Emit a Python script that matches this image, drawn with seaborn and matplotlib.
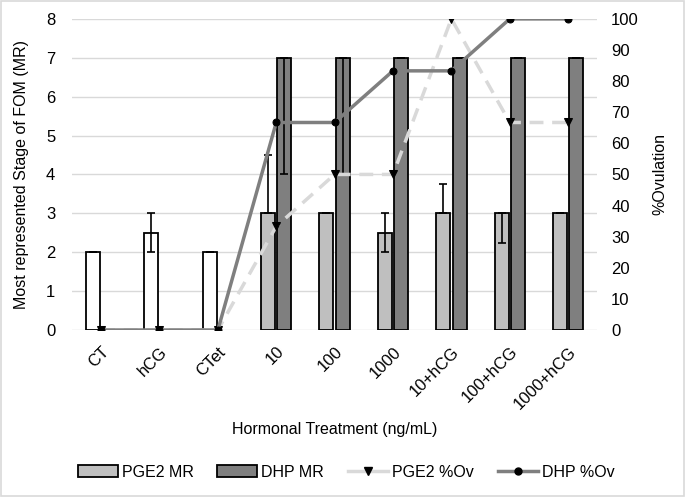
import numpy as np
import pandas as pd
import seaborn as sns
from matplotlib import pyplot as plt
from matplotlib.lines import Line2D
from matplotlib.patches import Patch, Rectangle

# data
treatments = ["CT", "hCG", "CTet", "10", "100", "1000", "10+hCG", "100+hCG", "1000+hCG"]
# controls sit in the PGE2 slot (drawn white)
pge2_mr = [2, 2.5, 2, 3, 3, 2.5, 3, 3, 3]
pge2_err_lo = [0, 0.5, 0, 0, 0, 0.5, 0, 0.75, 0]
pge2_err_hi = [0, 0.5, 0, 1.5, 0, 0.5, 0.75, 0, 0]
dhp_mr = [np.nan, np.nan, np.nan, 7, 7, 7, 7, 7, 7]
dhp_err_lo = [0, 0, 0, 3, 3, 0, 0, 0, 0]
dhp_err_hi = [0, 0, 0, 0, 0, 0, 0, 0, 0]
pge2_ov = [0, 0, 0, 33.3, 50, 50, 100, 66.7, 66.7]
dhp_ov = [0, 0, 0, 66.7, 66.7, 83.3, 83.3, 100, 100]

light = "#bfbfbf"
dark = "#7f7f7f"
dash_col = "#d9d9d9"

df = pd.DataFrame({
    "treat": treatments * 2,
    "mr": pge2_mr + dhp_mr,
    "series": ["PGE2 MR"] * 9 + ["DHP MR"] * 9,
})

plt.rcParams["font.family"] = ["Liberation Sans", "DejaVu Sans"]
plt.rcParams["font.size"] = 11

fig = plt.figure(figsize=(6.85, 4.97), dpi=100)
ax = fig.add_axes([0.105, 0.336, 0.767, 0.626])

sns.barplot(data=df, x="treat", y="mr", hue="series", order=treatments,
            hue_order=["PGE2 MR", "DHP MR"], palette=[light, dark],
            width=0.56, gap=0.14, errorbar=None, edgecolor="black",
            linewidth=1.3, legend=False, ax=ax, zorder=2)

# controls are white
for bar in ax.containers[0][:3]:
    bar.set_facecolor("white")

# asymmetric error bars at the bar centres
xpos = np.arange(9)
for cont, vals, lo, hi in [(ax.containers[0], pge2_mr, pge2_err_lo, pge2_err_hi),
                           (ax.containers[1], dhp_mr, dhp_err_lo, dhp_err_hi)]:
    b = cont[0]
    cx = b.get_x() + b.get_width() / 2
    off = cx - round(cx)
    keep = ~np.isnan(np.array(vals, dtype=float))
    ax.errorbar((xpos + off)[keep], np.array(vals, dtype=float)[keep],
                yerr=[np.array(lo)[keep], np.array(hi)[keep]], fmt="none",
                ecolor="black", elinewidth=1.2, capsize=3, capthick=1.2, zorder=3)

ax.set_ylim(0, 8)
ax.set_yticks(range(9))
ax.set_xlim(-0.5, 8.5)
ax.grid(axis="y", color="#d9d9d9", lw=1)
ax.set_axisbelow(True)
for s in ax.spines.values():
    s.set_visible(False)
ax.tick_params(length=0, labelsize=12)
ax.tick_params(axis="y", pad=12)
ax.set_xticks(range(9))
ax.set_xticklabels(treatments, rotation=45, ha="right", rotation_mode="anchor")
ax.tick_params(axis="x", pad=10)
ax.set_ylabel("Most represented Stage of FOM (MR)", fontsize=11.5, labelpad=12)
ax.set_xlabel("Hormonal Treatment (ng/mL)", fontsize=11.5, labelpad=7)

ax2 = ax.twinx()
sns.lineplot(x=xpos, y=pge2_ov, ax=ax2, color=dash_col, lw=2.5, linestyle=(0, (4, 2.5)),
             marker="v", markersize=6, markerfacecolor="black", markeredgecolor="black")
sns.lineplot(x=xpos, y=dhp_ov, ax=ax2, color=dark, lw=2.5,
             marker="o", markersize=5, markerfacecolor="black", markeredgecolor="black")
ax2.set_ylim(0, 100)
ax2.set_yticks(range(0, 101, 10))
ax2.set_xlim(-0.5, 8.5)
for s in ax2.spines.values():
    s.set_visible(False)
ax2.tick_params(length=0, labelsize=12, pad=10)
ax2.set_ylabel("%Ovulation", fontsize=11.5, labelpad=10)

handles = [
    Patch(facecolor=light, edgecolor="black", lw=1.3, label="PGE2 MR"),
    Patch(facecolor=dark, edgecolor="black", lw=1.3, label="DHP MR"),
    Line2D([], [], color=dash_col, lw=2.5, marker="v", markersize=6,
           markerfacecolor="black", markeredgecolor="black", label="PGE2 %Ov"),
    Line2D([], [], color=dark, lw=2.5, marker="o", markersize=5,
           markerfacecolor="black", markeredgecolor="black", label="DHP %Ov"),
]
fig.legend(handles=handles, loc="center", bbox_to_anchor=(0.505, 0.05), ncol=4,
           frameon=False, fontsize=11.5, handlelength=2.5, handleheight=0.8,
           handletextpad=0.25, columnspacing=1.5)

fig.patches.append(Rectangle((0.002, 0.002), 0.996, 0.996, transform=fig.transFigure,
                             fill=False, edgecolor="#d9d9d9", lw=1.2))

fig.savefig("out.png", dpi=100)
